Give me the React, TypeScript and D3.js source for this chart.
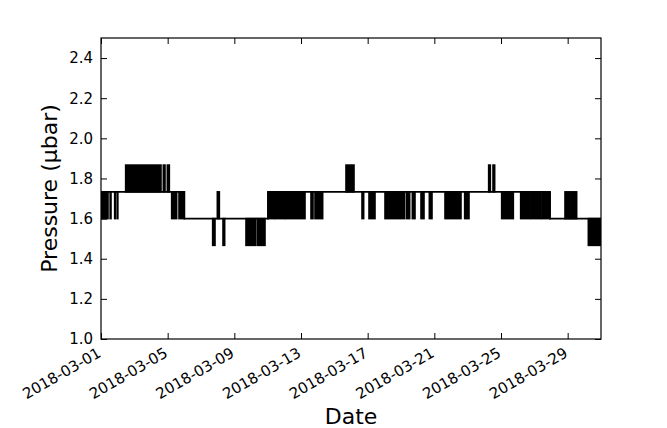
import React, { useEffect, useRef } from 'react';
import * as d3 from 'd3';

// pressure levels the gauge reports (quantised readings)
const levels = [1.4667, 1.6, 1.7333, 1.8667];

// steady level: [day offset from 2018-03-01, value]
const baseSteps: [number, number][] = [
  [0, levels[2]],
  [5.0, levels[1]],
  [10.02, levels[2]],
  [26.94, levels[1]],
  [30, levels[1]],
];

// stretches where the reading flickers: [start day, end day, low, high]
const bursts: [number, number, number, number][] = [
  [0, 0.42, levels[1], levels[2]],
  [0.55, 0.6, levels[1], levels[2]],
  [0.82, 0.86, levels[1], levels[2]],
  [0.97, 1.01, levels[1], levels[2]],
  [1.48, 3.6, levels[2], levels[3]],
  [3.74, 3.84, levels[2], levels[3]],
  [3.98, 4.1, levels[2], levels[3]],
  [4.24, 4.54, levels[1], levels[2]],
  [4.68, 5.0, levels[1], levels[2]],
  [6.7, 6.84, levels[0], levels[1]],
  [6.98, 7.1, levels[1], levels[2]],
  [7.32, 7.42, levels[0], levels[1]],
  [8.7, 9.28, levels[0], levels[1]],
  [9.38, 9.84, levels[0], levels[1]],
  [10.02, 10.4, levels[1], levels[2]],
  [10.47, 11.02, levels[1], levels[2]],
  [11.08, 12.24, levels[1], levels[2]],
  [12.6, 12.72, levels[1], levels[2]],
  [12.84, 13.3, levels[1], levels[2]],
  [14.7, 15.18, levels[2], levels[3]],
  [15.66, 15.76, levels[1], levels[2]],
  [16.08, 16.44, levels[1], levels[2]],
  [17.04, 18.2, levels[1], levels[2]],
  [18.32, 18.52, levels[1], levels[2]],
  [18.68, 18.84, levels[1], levels[2]],
  [19.2, 19.38, levels[1], levels[2]],
  [19.7, 19.86, levels[1], levels[2]],
  [20.64, 21.6, levels[1], levels[2]],
  [21.82, 22.08, levels[1], levels[2]],
  [23.26, 23.36, levels[2], levels[3]],
  [23.52, 23.62, levels[2], levels[3]],
  [24.04, 24.74, levels[1], levels[2]],
  [25.18, 25.75, levels[1], levels[2]],
  [25.82, 26.4, levels[1], levels[2]],
  [26.46, 26.94, levels[1], levels[2]],
  [27.84, 28.15, levels[1], levels[2]],
  [28.22, 28.54, levels[1], levels[2]],
  [29.24, 29.6, levels[0], levels[1]],
  [29.68, 30, levels[0], levels[1]],
];

const xTickLabels = [
  '2018-03-01', '2018-03-05', '2018-03-09', '2018-03-13',
  '2018-03-17', '2018-03-21', '2018-03-25', '2018-03-29',
];
const yTicks = [1.0, 1.2, 1.4, 1.6, 1.8, 2.0, 2.2, 2.4];

const START = Date.UTC(2018, 2, 1);
const toDate = (day: number) => new Date(START + day * 864e5);
const parseDay = d3.utcParse('%Y-%m-%d');

const W = 667;
const H = 428;
const FONT = '"DejaVu Sans", sans-serif';

const App: React.FC = () => {
  const svgRef = useRef<SVGSVGElement>(null);

  useEffect(() => {
    if (!svgRef.current) return;
    const svg = d3.select(svgRef.current);
    svg.selectAll('*').remove();

    const left = 101, right = 601, top = 38, bottom = 339;

    const x = d3.scaleUtc()
      .domain([toDate(0), toDate(30)])
      .range([left, right]);
    const y = d3.scaleLinear()
      .domain([1.0, 2.5])
      .range([bottom, top]);

    svg.append('defs').append('clipPath').attr('id', 'plot-clip')
      .append('rect')
      .attr('x', left).attr('y', top)
      .attr('width', right - left).attr('height', bottom - top);

    const plot = svg.append('g').attr('clip-path', 'url(#plot-clip)');

    const line = d3.line<[number, number]>()
      .x(d => x(toDate(d[0])))
      .y(d => y(d[1]))
      .curve(d3.curveStepAfter);

    plot.append('path')
      .datum(baseSteps)
      .attr('d', line)
      .attr('fill', 'none')
      .attr('stroke', '#000')
      .attr('stroke-width', 1.6);

    plot.selectAll('.burst')
      .data(bursts)
      .enter().append('rect')
      .attr('class', 'burst')
      .attr('x', d => x(toDate(d[0])))
      .attr('width', d => x(toDate(d[1])) - x(toDate(d[0])))
      .attr('y', d => y(d[3]))
      .attr('height', d => y(d[2]) - y(d[3]))
      .attr('fill', '#000')
      .attr('stroke', '#000')
      .attr('stroke-width', 1.6);

    const xTicks = xTickLabels.map(s => parseDay(s) as Date);

    const styleAxis = (g: d3.Selection<SVGGElement, unknown, null, undefined>) => {
      g.select('.domain').remove();
      g.selectAll('line').attr('stroke', '#000').attr('stroke-width', 1);
      g.attr('font-family', FONT).attr('font-size', 15);
      g.selectAll('text').attr('fill', '#000');
    };

    svg.append('g')
      .attr('transform', `translate(${left},0)`)
      .call(d3.axisLeft(y).tickValues(yTicks).tickSize(-6).tickPadding(8)
        .tickFormat(d => d3.format('.1f')(d as number)))
      .call(styleAxis);

    svg.append('g')
      .attr('transform', `translate(${right},0)`)
      .call(d3.axisRight(y).tickValues(yTicks).tickSize(-6).tickFormat(() => ''))
      .call(styleAxis);

    svg.append('g')
      .attr('transform', `translate(0,${bottom})`)
      .call(d3.axisBottom(x).tickValues(xTicks).tickSize(-6).tickFormat(() => ''))
      .call(styleAxis);

    svg.append('g')
      .attr('transform', `translate(0,${top})`)
      .call(d3.axisTop(x).tickValues(xTicks).tickSize(-6).tickFormat(() => ''))
      .call(styleAxis);

    // rotated date labels, right end anchored under each tick
    svg.append('g')
      .selectAll('text')
      .data(xTicks)
      .enter().append('text')
      .attr('transform', d => `translate(${x(d) + 1},${bottom + 17}) rotate(-30)`)
      .attr('text-anchor', 'end')
      .attr('font-family', FONT)
      .attr('font-size', 15)
      .attr('fill', '#000')
      .text(d => d3.utcFormat('%Y-%m-%d')(d));

    svg.append('rect')
      .attr('x', left).attr('y', top)
      .attr('width', right - left).attr('height', bottom - top)
      .attr('fill', 'none')
      .attr('stroke', '#000')
      .attr('stroke-width', 1.2);

    svg.append('text')
      .attr('x', (left + right) / 2)
      .attr('y', 424)
      .attr('text-anchor', 'middle')
      .attr('font-family', FONT)
      .attr('font-size', 22)
      .attr('fill', '#000')
      .text('Date');

    svg.append('text')
      .attr('transform', `translate(57,${(top + bottom) / 2}) rotate(-90)`)
      .attr('text-anchor', 'middle')
      .attr('font-family', FONT)
      .attr('font-size', 22)
      .attr('fill', '#000')
      .text('Pressure (µbar)');
  }, []);

  return (
    <svg
      ref={svgRef}
      width={W}
      height={H}
      style={{ position: 'absolute', left: 0, top: 0, background: '#fff' }}
    />
  );
};

export default App;
